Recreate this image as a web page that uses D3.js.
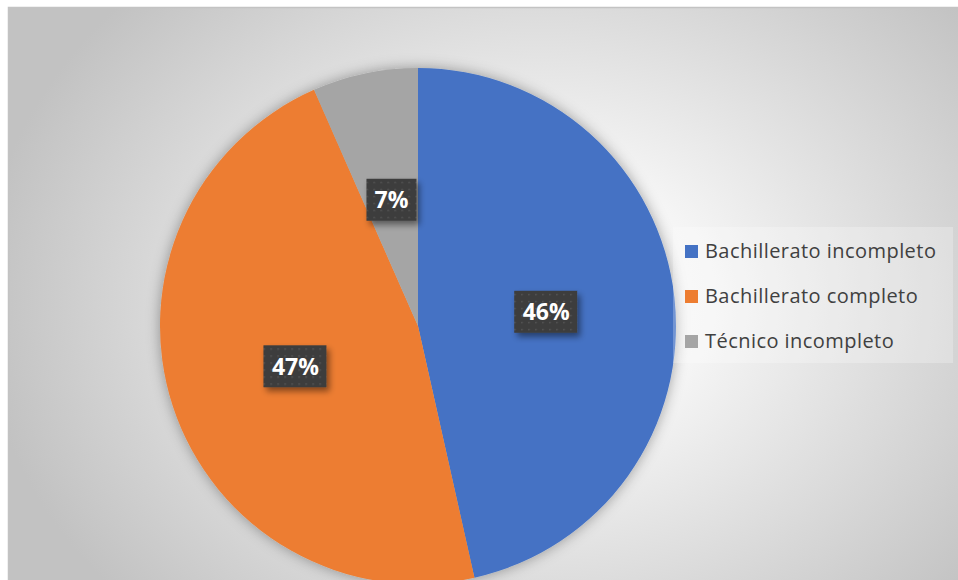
<!DOCTYPE html>
<html>
<head>
<meta charset="utf-8">
<script src="https://cdn.jsdelivr.net/npm/d3@7"></script>
<style>
  html, body { margin: 0; padding: 0; background: #fff; overflow: hidden; }
  svg { display: block; }
</style>
</head>
<body>
<div id="chart"></div>
<script>
// values (percent of total)
const categories = ['Bachillerato incompleto', 'Bachillerato completo', 'Técnico incompleto'];
const values = [46.49, 46.91, 6.6];
const colors = ['#4472c4', '#ed7d31', '#a5a5a5'];

const width = 958;
const height = 580;
const center = { x: 418, y: 326 };
const radius = 258;

const svg = d3.select('#chart').append('svg')
  .attr('width', width)
  .attr('height', height);

const defs = svg.append('defs');

// chart area background: soft radial gradient
const bg = defs.append('radialGradient')
  .attr('id', 'bg-grad')
  .attr('gradientUnits', 'userSpaceOnUse')
  .attr('cx', 540).attr('cy', 300).attr('r', 560)
  .attr('gradientTransform', 'translate(540,300) scale(1,0.8) translate(-540,-300)');
bg.append('stop').attr('offset', '0').attr('stop-color', '#ffffff');
bg.append('stop').attr('offset', '0.3').attr('stop-color', '#f5f5f5');
bg.append('stop').attr('offset', '1').attr('stop-color', '#c2c2c2');

// glow around the pie
const glow = defs.append('filter').attr('id', 'pie-glow')
  .attr('x', '-10%').attr('y', '-10%').attr('width', '120%').attr('height', '120%');
glow.append('feGaussianBlur').attr('in', 'SourceAlpha').attr('stdDeviation', 7).attr('result', 'blur');
glow.append('feFlood').attr('flood-color', '#000').attr('flood-opacity', 0.35);
glow.append('feComposite').attr('in2', 'blur').attr('operator', 'in').attr('result', 'shadow');
const glowMerge = glow.append('feMerge');
glowMerge.append('feMergeNode').attr('in', 'shadow');
glowMerge.append('feMergeNode').attr('in', 'SourceGraphic');

// shadow behind the label boxes
const boxShadow = defs.append('filter').attr('id', 'box-shadow')
  .attr('x', '-30%').attr('y', '-30%').attr('width', '170%').attr('height', '170%');
boxShadow.append('feGaussianBlur').attr('in', 'SourceAlpha').attr('stdDeviation', 3).attr('result', 'blur');
boxShadow.append('feOffset').attr('dx', 3).attr('dy', 4).attr('result', 'off');
boxShadow.append('feFlood').attr('flood-color', '#000').attr('flood-opacity', 0.45);
boxShadow.append('feComposite').attr('in2', 'off').attr('operator', 'in').attr('result', 'shadow');
const boxMerge = boxShadow.append('feMerge');
boxMerge.append('feMergeNode').attr('in', 'shadow');
boxMerge.append('feMergeNode').attr('in', 'SourceGraphic');

// dotted texture of the label boxes
const dots = defs.append('pattern').attr('id', 'dots')
  .attr('patternUnits', 'userSpaceOnUse').attr('width', 7).attr('height', 7);
dots.append('rect').attr('width', 7).attr('height', 7).attr('fill', '#3d3d3d');
dots.append('rect').attr('x', 3).attr('y', 3).attr('width', 1.4).attr('height', 1.4).attr('fill', '#5a5a5a');

svg.append('rect')
  .attr('x', 8.5).attr('y', 7.5)
  .attr('width', 1000).attr('height', 1000)
  .attr('fill', 'url(#bg-grad)')
  .attr('stroke', '#c3c3c3')
  .attr('stroke-width', 1.5);

const pie = d3.pie().sort(null).value((d) => d.value);
const rows = categories.map((name, i) => ({ name, value: values[i], color: colors[i] }));
const arcs = pie(rows);
const total = d3.sum(values);
const arc = d3.arc().innerRadius(0).outerRadius(radius);

const g = svg.append('g').attr('transform', 'translate(' + center.x + ',' + center.y + ')');

g.append('g').attr('filter', 'url(#pie-glow)')
  .selectAll('path')
  .data(arcs)
  .enter()
  .append('path')
  .attr('d', arc)
  .attr('fill', (d) => d.data.color);

const fmt = d3.format('.0%');
const labels = g.selectAll('.slice-label')
  .data(arcs)
  .enter()
  .append('g')
  .attr('class', 'slice-label')
  .attr('transform', (d) => 'translate(' + arc.centroid(d) + ')');

labels.append('rect')
  .attr('x', (d) => d.data.value < 10 ? -25 : -32)
  .attr('y', -21)
  .attr('width', (d) => d.data.value < 10 ? 50 : 63)
  .attr('height', 42)
  .attr('fill', 'url(#dots)')
  .attr('filter', 'url(#box-shadow)');

labels.append('text')
  .attr('text-anchor', 'middle')
  .attr('dy', '0.36em')
  .attr('fill', '#ffffff')
  .style('font-family', '"Open Sans", "Noto Sans", sans-serif')
  .style('font-weight', 700)
  .style('font-size', '23px')
  .text((d) => fmt(d.data.value / total));

// legend
const legend = svg.append('g').attr('transform', 'translate(685,251)');
legend.append('rect')
  .attr('x', -12).attr('y', -24)
  .attr('width', 280).attr('height', 136)
  .attr('fill', '#ffffff').attr('fill-opacity', 0.25);

const items = legend.selectAll('.legend-item')
  .data(rows)
  .enter()
  .append('g')
  .attr('class', 'legend-item')
  .attr('transform', (d, i) => 'translate(0,' + i * 45 + ')');

items.append('rect')
  .attr('x', 0).attr('y', -6)
  .attr('width', 13).attr('height', 13)
  .attr('fill', (d) => d.color);

items.append('text')
  .attr('x', 20)
  .attr('dy', '0.35em')
  .attr('fill', '#404040')
  .style('font-family', '"Open Sans", "Noto Sans", sans-serif')
  .style('font-size', '20px')
  .style('letter-spacing', '0.45px')
  .text((d) => d.name);
</script>
</body>
</html>
